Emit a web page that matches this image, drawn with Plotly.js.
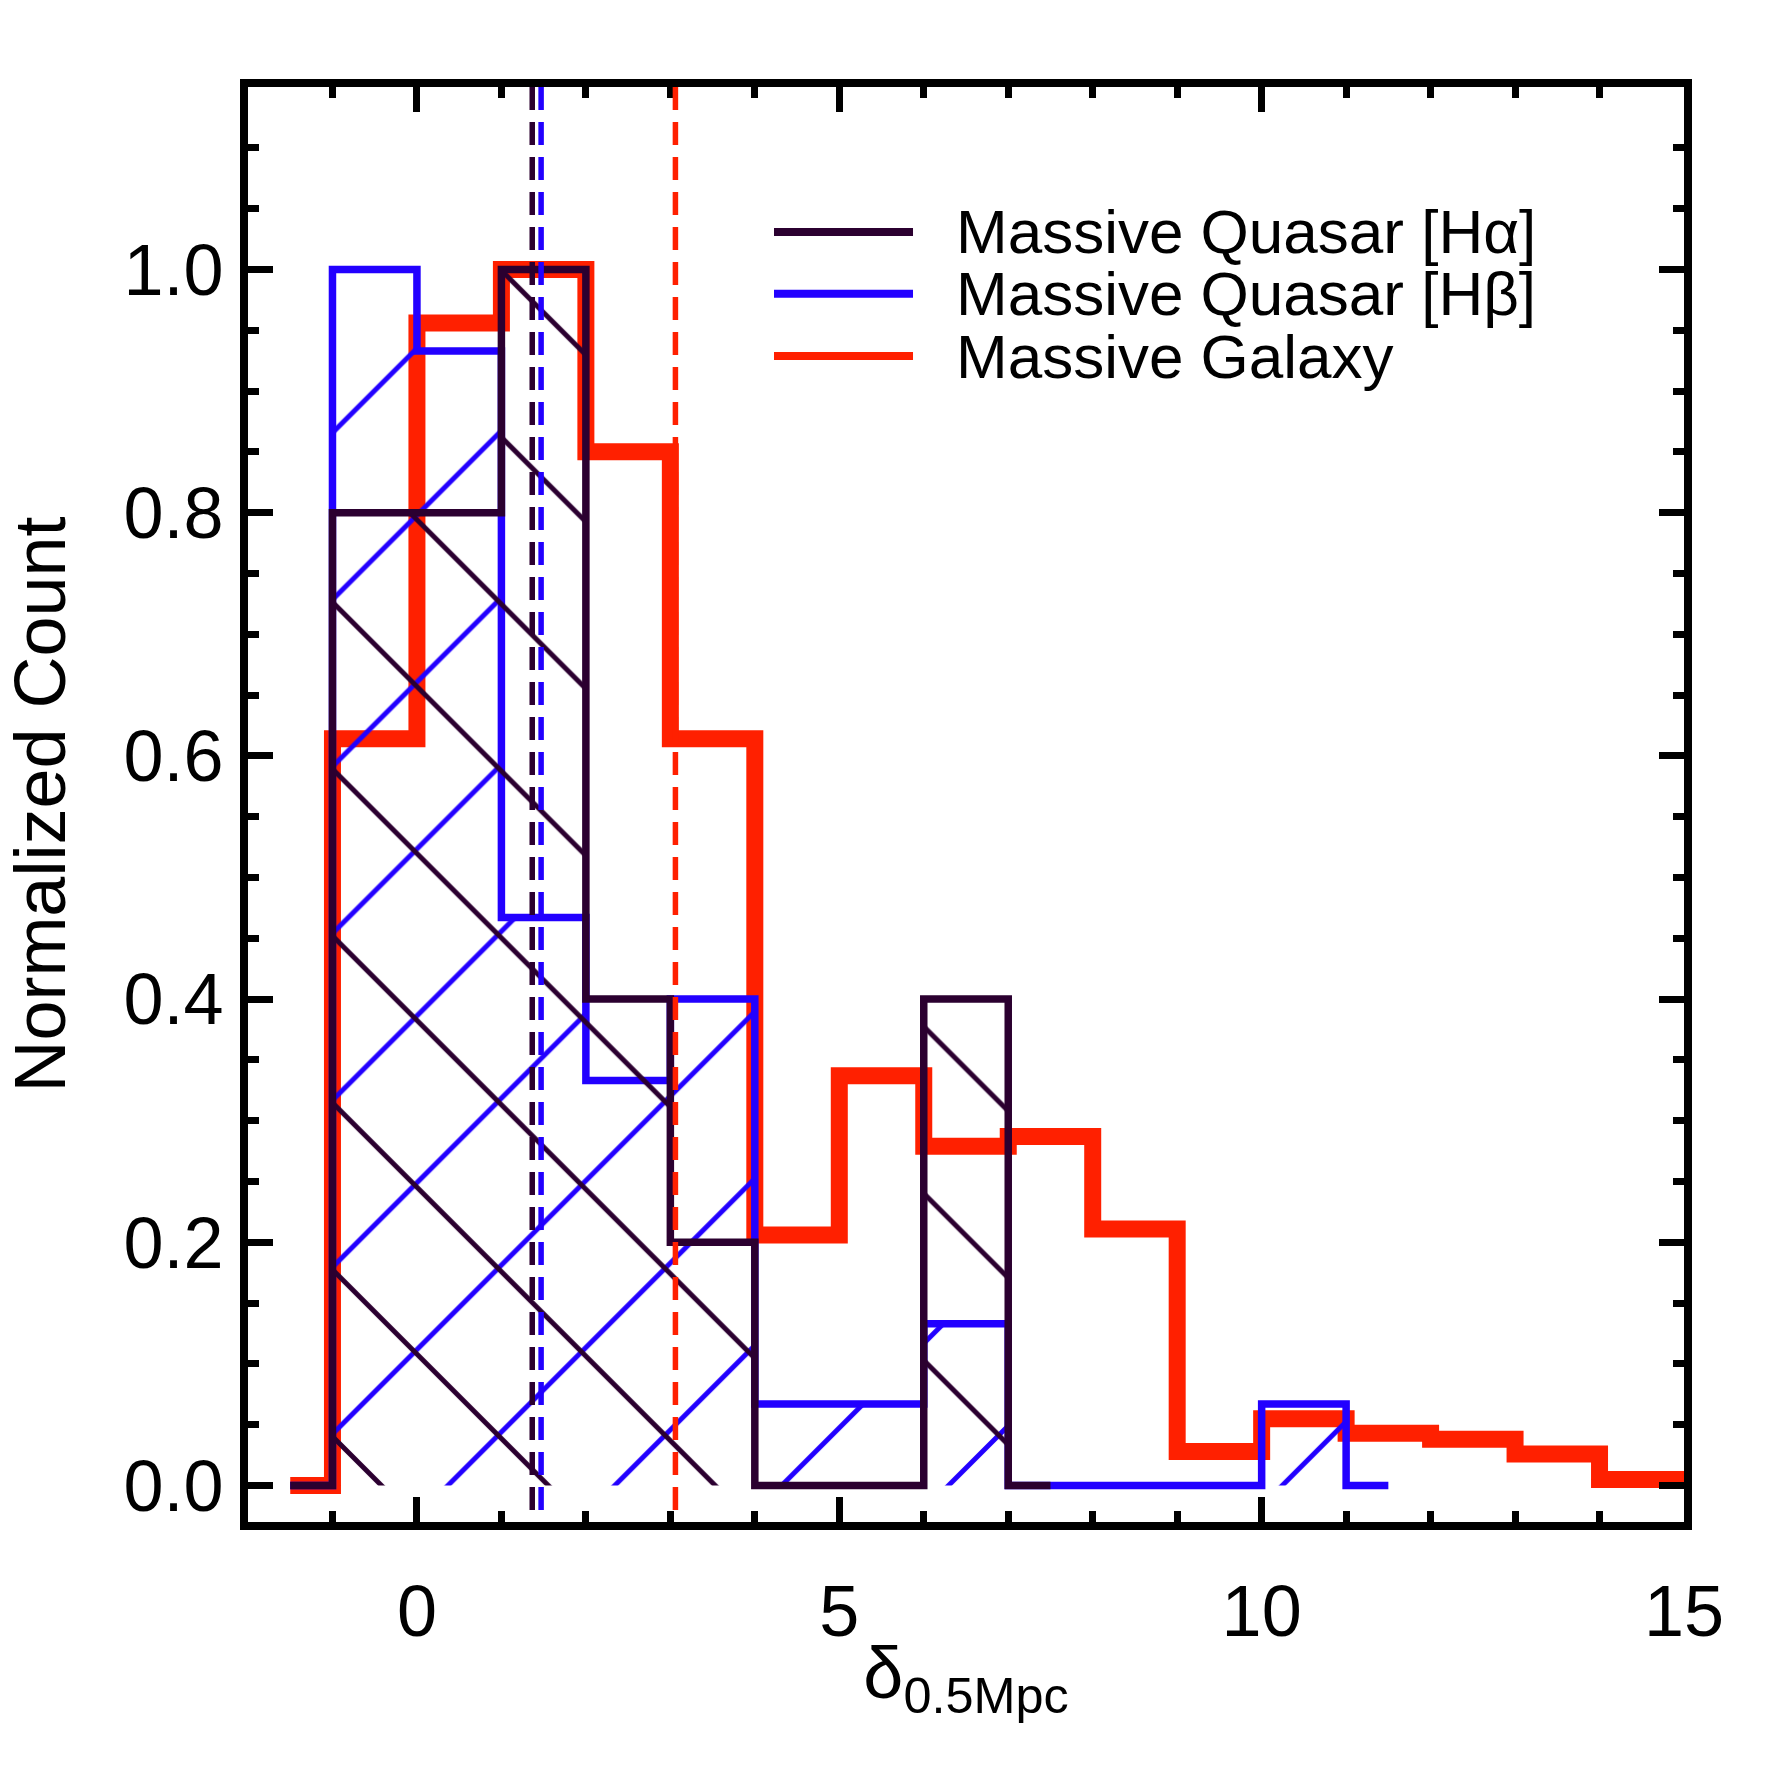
<!DOCTYPE html>
<html>
<head>
<meta charset="utf-8">
<script src="https://cdn.plot.ly/plotly-3.0.1.min.js"></script>
<style>
html,body{margin:0;padding:0;background:#ffffff;}
#chart{width:1771px;height:1771px;}
</style>
</head>
<body>
<div id="chart"></div>
<script>
// ---------------- data ----------------
// Bin left edges; each value holds until the next edge (histogram steps)
const haEdges  = [-1.5, -1, 0, 1, 2, 3, 4, 5, 6, 7, 7.5];
const haValues = [0, 0.8, 0.8, 1.0, 0.4, 0.2, 0, 0, 0.4, 0, 0];

const hbEdges  = [-1.5, -1, 0, 1, 2, 3, 4, 5, 6, 7, 10, 11, 11.5];
const hbValues = [0, 1.0, 0.933, 0.467, 0.333, 0.4, 0.067, 0.067, 0.133, 0, 0.067, 0, 0];

const galEdges  = [-1.5, -1, 0, 1, 2, 3, 4, 5, 6, 7, 8, 9, 10, 11, 12, 13, 14, 15];
const galValues = [0, 0.614, 0.956, 1.0, 0.85, 0.614, 0.206, 0.337, 0.279, 0.287, 0.211, 0.028, 0.055, 0.043, 0.038, 0.026, 0.005, 0.005];

// medians (dashed vertical lines): Ha, Hb, galaxy
const medianValues = [1.365, 1.47, 3.06];

const seriesNames = ['Massive Quasar [H\u03b1]', 'Massive Quasar [H\u03b2]', 'Massive Galaxy'];
const xTickVals = [0, 5, 10, 15];
const yTickVals = [0, 0.2, 0.4, 0.6, 0.8, 1.0];

// ---------------- styling ----------------
const C_HA  = '#2b0030';
const C_HB  = '#2200ff';
const C_GAL = '#ff2000';
const seriesColors = [C_HA, C_HB, C_GAL];
const FONT = 'Liberation Sans, Arial, Helvetica, sans-serif';

const HATCH_SIZE = 118;
const HATCH_SOLID = 0.042;

const traces = [
  { // galaxy (thick red step line)
    x: galEdges, y: galValues, type: 'scatter', mode: 'lines',
    line: {shape: 'hv', color: C_GAL, width: 17},
    hoverinfo: 'skip', showlegend: false
  },
  { // H-beta quasar: blue, '/' hatching
    x: hbEdges, y: hbValues, type: 'scatter', mode: 'lines',
    line: {shape: 'hv', color: C_HB, width: 7.5},
    fill: 'tozeroy', fillcolor: 'rgba(0,0,0,0)',
    fillpattern: {shape: '/', size: HATCH_SIZE, solidity: HATCH_SOLID,
                  fgcolor: C_HB, bgcolor: 'rgba(0,0,0,0)', fgopacity: 1},
    hoverinfo: 'skip', showlegend: false
  },
  { // H-alpha quasar: dark purple, '\' hatching
    x: haEdges, y: haValues, type: 'scatter', mode: 'lines',
    line: {shape: 'hv', color: C_HA, width: 7.5},
    fill: 'tozeroy', fillcolor: 'rgba(0,0,0,0)',
    fillpattern: {shape: '\\', size: HATCH_SIZE, solidity: HATCH_SOLID,
                  fgcolor: C_HA, bgcolor: 'rgba(0,0,0,0)', fgopacity: 1},
    hoverinfo: 'skip', showlegend: false
  }
];

// dashed median lines
const medianColors = [C_HA, C_HB, C_GAL];
const shapes = medianValues.map((m, i) => ({
  type: 'line', xref: 'x', yref: 'paper', x0: m, x1: m, y0: 1, y1: 0,
  line: {color: medianColors[i], width: 5.5, dash: '23px,12px'}, layer: 'above'
}));

// custom legend (long line samples like the original)
const legX0 = 0.3663, legX1 = 0.4631, legTextX = 0.4916;
const legY = [0.899, 0.856, 0.8125];
const annotations = [];
seriesNames.forEach((name, i) => {
  shapes.push({type: 'line', xref: 'paper', yref: 'paper',
    x0: legX0, x1: legX1, y0: legY[i], y1: legY[i],
    line: {color: seriesColors[i], width: 8}});
  annotations.push({xref: 'paper', yref: 'paper', x: legTextX, y: legY[i],
    xanchor: 'left', yanchor: 'middle', showarrow: false, text: name,
    font: {family: FONT, size: 62, color: '#000'}});
});

const axisCommon = {
  showline: true, linewidth: 8, linecolor: '#000', mirror: 'ticks',
  ticks: 'inside', ticklen: 25, tickwidth: 7, tickcolor: '#000',
  showgrid: false, zeroline: false,
  tickfont: {family: FONT, size: 72, color: '#000'}
};

const layout = {
  width: 1771, height: 1771,
  margin: {l: 248, r: 87, t: 87, b: 249, pad: 0},
  paper_bgcolor: '#fff', plot_bgcolor: '#fff',
  showlegend: false,
  font: {family: FONT, color: '#000'},
  xaxis: Object.assign({}, axisCommon, {
    range: [-2, 15], tickmode: 'array', tickvals: xTickVals,
    ticktext: xTickVals.map(String),
    minor: {ticks: 'inside', ticklen: 11, tickwidth: 7, tickcolor: '#000', dtick: 1, tick0: 0, showgrid: false},
    ticklabelstandoff: 20,
    title: {text: '\u03b4<sub>0.5Mpc</sub>', font: {family: FONT, size: 72, color: '#000'}, standoff: 0}
  }),
  yaxis: Object.assign({}, axisCommon, {
    range: [-0.03, 1.15], tickmode: 'array', tickvals: yTickVals,
    ticktext: yTickVals.map(v => v.toFixed(1)),
    minor: {ticks: 'inside', ticklen: 11, tickwidth: 7, tickcolor: '#000', dtick: 0.05, tick0: 0, showgrid: false},
    ticklabelstandoff: 2,
    title: {text: 'Normalized Count', font: {family: FONT, size: 72, color: '#000'}, standoff: 48}
  }),
  shapes: shapes,
  annotations: annotations
};

const gd = document.getElementById('chart');
Plotly.newPlot(gd, traces, layout, {staticPlot: true, displayModeBar: false}).then(() => {
  // align hatch phase with the original figure
  gd.querySelectorAll('pattern').forEach(p => {
    const path = p.querySelector('path');
    if (!path) return;
    const d = path.getAttribute('d') || '';
    const dx = d.startsWith('M-') ? 96.5 : 70;
    p.setAttribute('patternTransform', 'translate(' + dx + ',0)');
  });
});
</script>
</body>
</html>
